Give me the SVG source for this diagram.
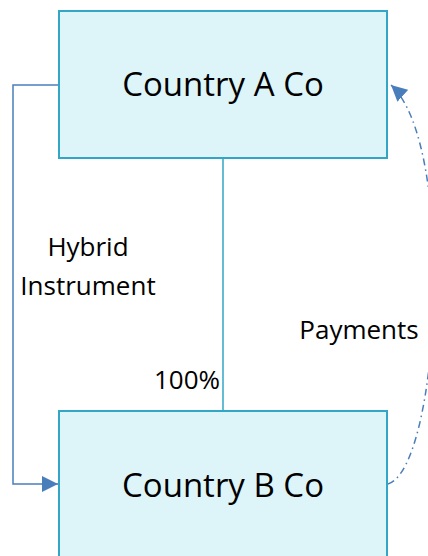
<svg xmlns="http://www.w3.org/2000/svg" width="428" height="556" viewBox="0 0 428 556">
<defs>
<style>
.box{fill:#DDF4F9;stroke:#31A6C7;stroke-width:2}
.big{font-family:"Open Sans","Liberation Sans",sans-serif;font-size:33px;fill:#000;text-anchor:middle}
.lbl{font-family:"Open Sans","Liberation Sans",sans-serif;font-size:26px;fill:#000;text-anchor:middle}
.conn{fill:none;stroke:#4A7EBB;stroke-width:1.5}
</style>
<marker id="arr" viewBox="0 0 10 10" refX="10" refY="5" markerWidth="16" markerHeight="16" markerUnits="userSpaceOnUse" orient="auto">
<path d="M0,0 L10,5 L0,10 z" fill="#4A7EBB"/>
</marker>
</defs>
<g id="connectors">
<line x1="223" y1="158" x2="223" y2="411" stroke="#31A6C7" stroke-width="1.5"/>
<path class="conn" d="M61,85 H13 V484 H58" marker-end="url(#arr)"/>
<path class="conn" d="M388,484 C440,468 457,145 391,85" stroke-dasharray="7,4,1.5,4" marker-end="url(#arr)"/>
</g>
<g id="nodeA">
<rect class="box" x="59" y="11" width="328" height="147"/>
<text class="big" x="223" y="96">Country A Co</text>
</g>
<g id="nodeB">
<rect class="box" x="59" y="411" width="328" height="150"/>
<text class="big" x="223" y="497">Country B Co</text>
</g>
<g id="labels">
<text class="lbl" x="88" y="256">Hybrid</text>
<text class="lbl" x="88" y="295">Instrument</text>
<text class="lbl" x="359" y="339">Payments</text>
<text class="lbl" x="187" y="389">100%</text>
</g>
</svg>
